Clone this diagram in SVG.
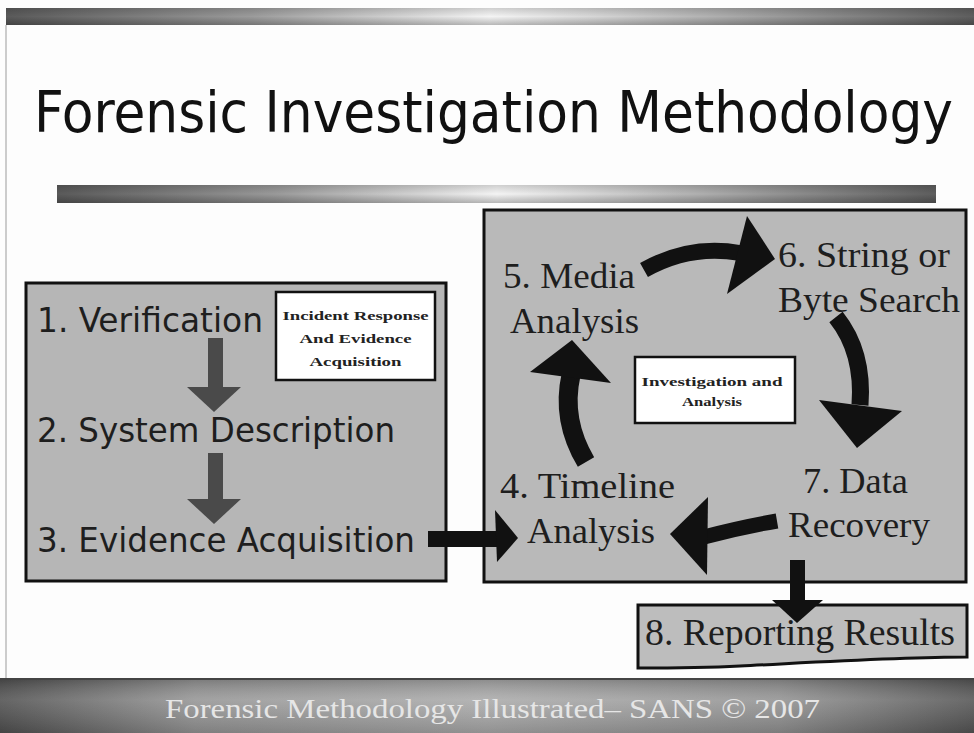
<svg xmlns="http://www.w3.org/2000/svg" width="974" height="733" viewBox="0 0 974 733">
<defs>
<linearGradient id="barG" x1="0" y1="0" x2="1" y2="0">
<stop offset="0" stop-color="#5a5a5a"/>
<stop offset="0.25" stop-color="#9a9a9a"/>
<stop offset="0.5" stop-color="#f4f4f4"/>
<stop offset="0.6" stop-color="#d8d8d8"/>
<stop offset="0.85" stop-color="#8a8a8a"/>
<stop offset="1" stop-color="#5e5e5e"/>
</linearGradient>
<linearGradient id="barV" x1="0" y1="0" x2="0" y2="1">
<stop offset="0" stop-color="#000" stop-opacity="0.15"/>
<stop offset="0.5" stop-color="#000" stop-opacity="0"/>
<stop offset="1" stop-color="#000" stop-opacity="0.25"/>
</linearGradient>
<linearGradient id="footG" x1="0" y1="0" x2="1" y2="0">
<stop offset="0" stop-color="#505050"/>
<stop offset="0.2" stop-color="#959595"/>
<stop offset="0.5" stop-color="#aaaaaa"/>
<stop offset="0.8" stop-color="#929292"/>
<stop offset="1" stop-color="#555"/>
</linearGradient>
<linearGradient id="footV" x1="0" y1="0" x2="0" y2="1">
<stop offset="0" stop-color="#000" stop-opacity="0.2"/>
<stop offset="0.4" stop-color="#fff" stop-opacity="0.12"/>
<stop offset="1" stop-color="#000" stop-opacity="0.15"/>
</linearGradient>
<style>
.box{fill:#b6b6b6;stroke:#111;stroke-width:3}
.lbl{fill:#fff;stroke:#111;stroke-width:2.5}
.sans{font-family:"DejaVu Sans Condensed","DejaVu Sans",sans-serif;fill:#1e1e1e}
.serif{font-family:"Liberation Serif","Times New Roman",serif;fill:#1e1e1e}
.small{font-family:"Liberation Serif","Times New Roman",serif;font-weight:bold;fill:#222;font-size:12px}
.shaft{fill:none;stroke:#111}
.head{fill:#111}
.dgray{fill:#4a4a4a}
</style>
</defs>
<rect width="974" height="733" fill="#fdfdfd"/>
<line x1="6" y1="25" x2="6" y2="678" stroke="#bbb" stroke-width="1.5"/>
<rect x="6" y="8" width="968" height="17" fill="url(#barG)"/>
<rect x="6" y="8" width="968" height="17" fill="url(#barV)"/>
<text x="34" y="132" class="sans" font-size="57" textLength="919" lengthAdjust="spacingAndGlyphs" style="fill:#111">Forensic Investigation Methodology</text>
<rect x="57" y="185" width="879" height="18" fill="url(#barG)"/>
<rect x="57" y="185" width="879" height="18" fill="url(#barV)"/>

<g id="phase1">
<rect x="26" y="283" width="420" height="298" class="box"/>
<g id="label1">
<rect x="276" y="292" width="159" height="88" class="lbl"/>
<text x="355.5" y="320" class="small" text-anchor="middle" textLength="146" lengthAdjust="spacingAndGlyphs">Incident Response</text>
<text x="355.5" y="343" class="small" text-anchor="middle" textLength="112" lengthAdjust="spacingAndGlyphs">And Evidence</text>
<text x="355.5" y="366" class="small" text-anchor="middle" textLength="92" lengthAdjust="spacingAndGlyphs">Acquisition</text>
</g>
</g>
<g id="n1"><text x="37" y="332" class="sans" font-size="34" textLength="226" lengthAdjust="spacingAndGlyphs">1. Verification</text></g>
<g id="n2"><text x="37" y="442" class="sans" font-size="34" textLength="358" lengthAdjust="spacingAndGlyphs">2. System Description</text></g>
<g id="n3"><text x="37" y="552" class="sans" font-size="34" textLength="378" lengthAdjust="spacingAndGlyphs">3. Evidence Acquisition</text></g>

<g id="phase2">
<rect x="484" y="210" width="482" height="372" class="box" style="fill:#b9b9b9"/>
<g id="label2">
<rect x="635" y="357" width="160" height="66" class="lbl"/>
<text x="712" y="386" class="small" text-anchor="middle" textLength="141" lengthAdjust="spacingAndGlyphs">Investigation and</text>
<text x="712" y="406" class="small" text-anchor="middle" textLength="60" lengthAdjust="spacingAndGlyphs">Analysis</text>
</g>
</g>
<g id="n4">
<text x="500" y="498" class="serif" font-size="35" textLength="175" lengthAdjust="spacingAndGlyphs">4. Timeline</text>
<text x="527" y="543" class="serif" font-size="35" textLength="128" lengthAdjust="spacingAndGlyphs">Analysis</text>
</g>
<g id="n5">
<text x="503" y="288" class="serif" font-size="35" textLength="132" lengthAdjust="spacingAndGlyphs">5. Media</text>
<text x="510" y="333" class="serif" font-size="35" textLength="129" lengthAdjust="spacingAndGlyphs">Analysis</text>
</g>
<g id="n6">
<text x="778" y="267" class="serif" font-size="35" textLength="172" lengthAdjust="spacingAndGlyphs">6. String or</text>
<text x="778" y="312" class="serif" font-size="35" textLength="182" lengthAdjust="spacingAndGlyphs">Byte Search</text>
</g>
<g id="n7">
<text x="803" y="493" class="serif" font-size="35" textLength="105" lengthAdjust="spacingAndGlyphs">7. Data</text>
<text x="788" y="537" class="serif" font-size="35" textLength="142" lengthAdjust="spacingAndGlyphs">Recovery</text>
</g>
<g id="n8">
<path d="M638,605 L967,605 L967,657 C900,657 820,662 740,666 C700,668 660,668 638,668 Z" class="box" style="fill:#bdbdbd"/>
<text x="645" y="645" class="serif" font-size="37" textLength="310" lengthAdjust="spacingAndGlyphs">8. Reporting Results</text>
</g>

<g id="connectors">
<rect x="208" y="338" width="15" height="49" class="dgray"/>
<polygon points="187,387 241,387 214,412" class="dgray"/>
<rect x="208" y="453" width="15" height="46" class="dgray"/>
<polygon points="187,499 241,499 214,524" class="dgray"/>
<rect x="428" y="531" width="69" height="16" class="head"/>
<polygon points="495,510 518,538 497,562" class="head"/>
<path d="M644,270 Q690,244 740,253" class="shaft" stroke-width="16"/>
<polygon points="747,216 775,259 727,294" class="head"/>
<path d="M836,317 Q864,352 860,405" class="shaft" stroke-width="17"/>
<polygon points="819,400 902,411 857,448" class="head"/>
<path d="M777,521 Q742,527 704,537" class="shaft" stroke-width="15"/>
<polygon points="708,497 670,534 707,575" class="head"/>
<path d="M586,462 Q561,420 571,375" class="shaft" stroke-width="19"/>
<polygon points="530,372 572,340 611,383" class="head"/>
<rect x="790" y="560" width="15" height="42" class="head"/>
<polygon points="772,600 823,600 797,623" class="head"/>
</g>

<rect x="0" y="678" width="974" height="55" fill="url(#footG)"/>
<rect x="0" y="678" width="974" height="55" fill="url(#footV)"/>
<line x1="0" y1="679" x2="974" y2="679" stroke="#444" stroke-width="2"/>
<text x="165" y="718" font-family="Liberation Serif,'Times New Roman',serif" font-size="27" fill="#e6e6e6" textLength="655" lengthAdjust="spacingAndGlyphs">Forensic Methodology Illustrated– SANS © 2007</text>
</svg>
